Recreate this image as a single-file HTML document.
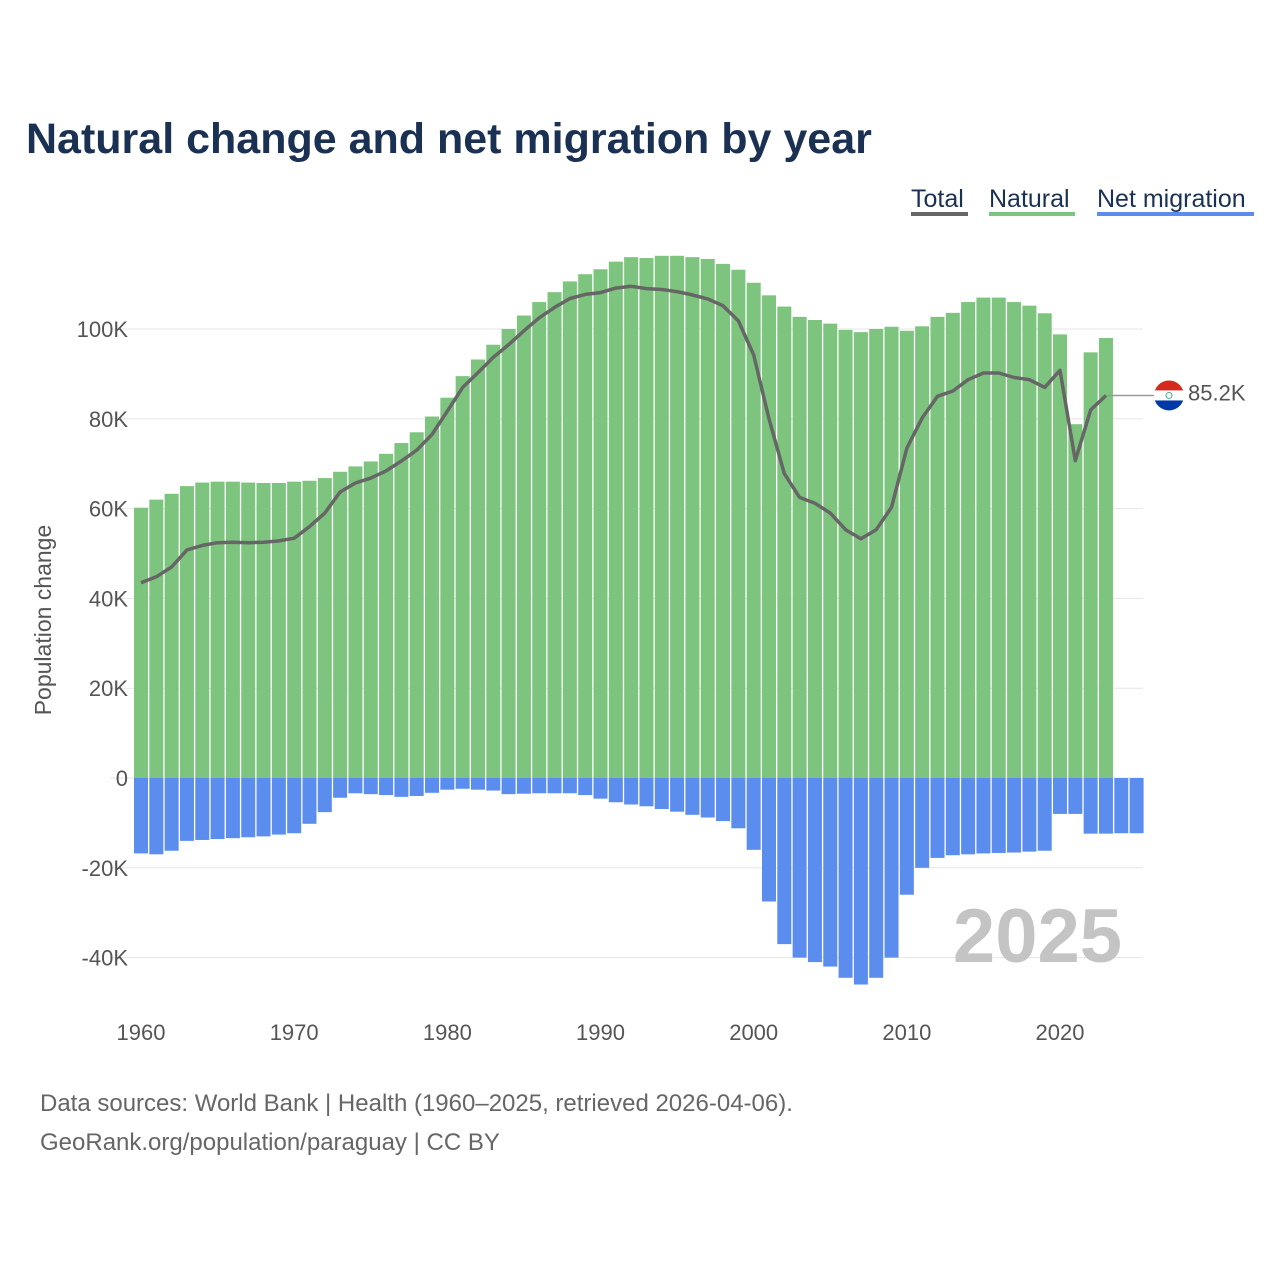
<!DOCTYPE html>
<html><head><meta charset="utf-8">
<style>
body{margin:0;background:#fff;font-family:"Liberation Sans",sans-serif;}
#wrap{position:relative;width:1280px;height:1280px;overflow:hidden;}
</style></head>
<body>
<div id="wrap">
<svg id="chart" width="1280" height="1280" xmlns="http://www.w3.org/2000/svg">
<text x="26" y="153" font-size="43" font-weight="bold" fill="#1b3153">Natural change and net migration by year</text>
<g font-size="25" fill="#1b3153">
<g><text x="911" y="207">Total</text><rect x="911" y="212" width="57" height="4" fill="#666"/></g>
<g><text x="989" y="207">Natural</text><rect x="989" y="212" width="86" height="4" fill="#7dc47e"/></g>
<g><text x="1097" y="207">Net migration</text><rect x="1097" y="212" width="157" height="4" fill="#5b8def"/></g>
</g>
<g id="grid"></g><g id="bars"></g><g id="line"></g><g id="axes"></g>
<text x="1122" y="962" font-size="76" font-weight="bold" fill="#c4c4c4" text-anchor="end">2025</text>
<text transform="translate(51,620) rotate(-90)" font-size="23" fill="#555" text-anchor="middle">Population change</text>
<text x="40" y="1111" font-size="24" fill="#666">Data sources: World Bank | Health (1960–2025, retrieved 2026-04-06).</text>
<text x="40" y="1150" font-size="24" fill="#666">GeoRank.org/population/paraguay | CC BY</text>
</svg>
</div>
<script>
const years=[];for(let y=1960;y<=2025;y++)years.push(y);
const natural=[60.2,62,63.3,65,65.8,66,66,65.8,65.7,65.7,66,66.2,66.8,68.2,69.4,70.5,72.2,74.6,77,80.5,84.7,89.5,93.2,96.5,100,103,106,108.2,110.6,112.2,113.3,115,116,115.8,116.3,116.3,116,115.6,114.5,113.2,110.3,107.5,105,102.7,102,101.2,99.8,99.3,100,100.5,99.6,100.6,102.7,103.6,106,107,107,106,105.2,103.5,98.8,78.8,94.8,98,null,null];
const migration=[-16.8,-17,-16.2,-14,-13.8,-13.6,-13.4,-13.2,-13,-12.6,-12.3,-10.2,-7.6,-4.4,-3.4,-3.6,-3.8,-4.2,-4,-3.3,-2.6,-2.4,-2.6,-2.8,-3.6,-3.5,-3.4,-3.4,-3.4,-3.8,-4.6,-5.4,-5.9,-6.3,-6.9,-7.5,-8.2,-8.8,-9.6,-11.2,-16,-27.5,-37,-40,-41,-42,-44.5,-46,-44.5,-40,-26,-20,-17.8,-17.2,-17,-16.8,-16.7,-16.6,-16.4,-16.2,-8,-8,-12.4,-12.4,-12.3,-12.3];
const total=[43.5,44.8,47,50.8,51.8,52.4,52.5,52.4,52.5,52.8,53.4,56,59,63.7,65.7,66.8,68.4,70.6,73,76.5,81.7,87,90.3,93.7,96.5,99.6,102.5,104.8,106.8,107.7,108.1,109.1,109.5,109,108.8,108.3,107.6,106.7,105.2,101.8,94.2,80,67.8,62.5,61.2,59,55.3,53.3,55.3,60.3,73.5,80.2,85,86.2,88.7,90.2,90.2,89.2,88.7,87,90.8,70.7,82,85.2];
const yTicks=[-40,-20,0,20,40,60,80,100];
const yTickLabels=["-40K","-20K","0","20K","40K","60K","80K","100K"];
const xTicks=[1960,1970,1980,1990,2000,2010,2020];
const NS="http://www.w3.org/2000/svg";
const x=y=>141+(y-1960)*15.317;
const yS=v=>778-v*4.49;
function mk(tag,attrs,parent){const e=document.createElementNS(NS,tag);for(const k in attrs)e.setAttribute(k,attrs[k]);parent.appendChild(e);return e;}
const grid=document.getElementById('grid'),bars=document.getElementById('bars'),line=document.getElementById('line'),axes=document.getElementById('axes');
yTicks.forEach((t,i)=>{
 const l=mk('line',{x1:110,x2:1143,y1:yS(t),y2:yS(t),stroke:'#e6e6e6','stroke-width':1},grid);
 
 
 const tx=mk('text',{x:128,y:yS(t)+8,'font-size':22,fill:'#555','text-anchor':'end'},axes);
 tx.textContent=yTickLabels[i];
 
 
});
xTicks.forEach(t=>{
 const tx=mk('text',{x:x(t),y:1040,'font-size':22,fill:'#555','text-anchor':'middle'},axes);
 tx.textContent=t;
 
 
});
const bw=14;
years.forEach((yr,i)=>{
 if(natural[i]!=null){
  const r=mk('rect',{x:x(yr)-bw/2,y:yS(natural[i]),width:bw,height:yS(0)-yS(natural[i]),fill:'#7dc47e'},bars);
  
  
 }
 if(migration[i]!=null){
  const r=mk('rect',{x:x(yr)-bw/2,y:yS(0),width:bw,height:yS(migration[i])-yS(0),fill:'#5b8def'},bars);
  
  
 }
});
let d='';total.forEach((v,i)=>{d+=(i?'L':'M')+x(years[i]).toFixed(1)+','+yS(v).toFixed(1);});
const p=mk('path',{d:d,fill:'none',stroke:'#666','stroke-width':3.5,'stroke-linejoin':'round'},line);


const li=total.length-1,ex=x(years[li]),ey=yS(total[li]);
const c=mk('line',{x1:ex,y1:ey,x2:1155,y2:ey,stroke:'#999','stroke-width':1.5},line);


const g=mk('g',{},line);


mk('clipPath',{id:'fc'},g).appendChild(document.createElementNS(NS,'circle'));
const cc=g.querySelector('clipPath circle');cc.setAttribute('cx',1169);cc.setAttribute('cy',ey);cc.setAttribute('r',15);
const fg=mk('g',{'clip-path':'url(#fc)'},g);
mk('rect',{x:1154,y:ey-15,width:30,height:10,fill:'#d52b1e'},fg);
mk('rect',{x:1154,y:ey-5,width:30,height:10,fill:'#fff'},fg);
mk('rect',{x:1154,y:ey+5,width:30,height:10,fill:'#0038a8'},fg);
mk('circle',{cx:1169,cy:ey,r:3,fill:'none',stroke:'#4a8',"stroke-width":1},fg);
const lt=mk('text',{x:1188,y:ey+5,'font-size':22,fill:'#555'},line);
lt.textContent=total[li]+'K';


</script>
</body></html>
